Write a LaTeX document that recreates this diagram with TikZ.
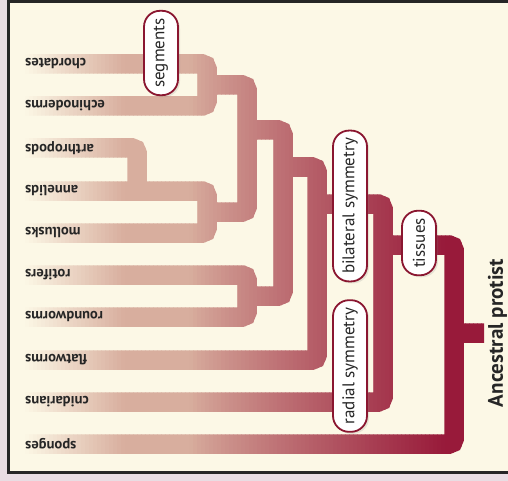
\documentclass[tikz,border=0pt]{standalone}
\usepackage{xcolor}
\usepackage{fontspec}
\setmainfont{PT Sans}
\usetikzlibrary{shadows}

\definecolor{pagepink}{HTML}{E9DDE3}
\definecolor{panelcream}{HTML}{FCF8E6}
\definecolor{tanbar}{HTML}{D8AE9E}
\definecolor{crimbar}{HTML}{981A3A}
\definecolor{traitred}{HTML}{8A1630}

% all branches of the tree, from leaf to root
\newcommand{\treebranches}{%
  (chordates) -- (chordates -| deut) -- (echinoderms -| deut) -- (echinoderms)
  (arthropods) -- (arthropods -| arth) -- (annelids -| arth)
  (annelids) -- (annelids -| lopho) -- (mollusks -| lopho) -- (mollusks)
  (deut) -- (deut -| coel) -- (lopho -| coel) -- (lopho)
  (rotifers) -- (rotifers -| pseudo) -- (roundworms -| pseudo) -- (roundworms)
  (coel) -- (coel -| prot) -- (pseudo -| prot) -- (pseudo)
  (prot) -- (prot -| bilat) -- (flatworms -| bilat) -- (flatworms)
  (bilat) -- (bilat -| eumet) -- (cnidarians -| eumet) -- (cnidarians)
  (eumet) -- (eumet -| root) -- (sponges -| root) -- (sponges)
  (root) -- (rootend)}

\begin{document}
\begin{tikzpicture}[x=1pt,y=-1pt]

% ---------- common style ----------
\tikzstyle{branch}=[line width=19.5,rounded corners=5]
\tikzstyle{leaf}=[font=\fontsize{14.6}{16}\selectfont\bfseries,text=black!85,rotate=180,anchor=east,inner sep=0pt]
\tikzstyle{trait}=[draw=traitred,line width=1.8,fill=white,rounded corners=16,minimum height=34,
  inner xsep=7.5,inner ysep=0,rotate=90,font=\fontsize{17}{19}\selectfont,text=black!85,
  drop shadow={opacity=0.18,shadow xshift=2,shadow yshift=2}]

% ================== frame ==================
\useasboundingbox (0,0) rectangle (508,481);
\fill[pagepink] (0,0) rectangle (508,481);
\draw[black!85,line width=3,fill=panelcream] (8.5,1.5) rectangle (530,472.5);

% ================== leaves ==================
\coordinate (chordates)   at (25,64);
\coordinate (echinoderms) at (25,106);
\coordinate (arthropods)  at (25,148);
\coordinate (annelids)    at (25,191);
\coordinate (mollusks)    at (25,233);
\coordinate (rotifers)    at (25,275);
\coordinate (roundworms)  at (25,317);
\coordinate (flatworms)   at (25,360);
\coordinate (cnidarians)  at (25,402);
\coordinate (sponges)     at (25,444);

% ================== branch points ==================
\coordinate (deut)    at (207,85);
\coordinate (arth)    at (137,170);
\coordinate (lopho)   at (207,212);
\coordinate (coel)    at (247,130);
\coordinate (pseudo)  at (247,296);
\coordinate (prot)    at (283,167);
\coordinate (bilat)   at (317,204);
\coordinate (eumet)   at (383,245);
\coordinate (root)    at (454,333);
\coordinate (rootend) at (484,333);

% tree drawn in thin vertical slices: cream -> tan -> crimson
\foreach \i in {0,...,115}{
  \pgfmathsetmacro{\xl}{25+4*\i}
  \pgfmathsetmacro{\tpct}{min(100,(\xl-23)/1.0)}
  \pgfmathsetmacro{\cpct}{100*pow(max(0.001,min(1,(\xl+2-190)/255)),0.85)}
  \colorlet{slicebase}{tanbar!\tpct!panelcream}
  \colorlet{slicecol}{crimbar!\cpct!slicebase}
  \begin{scope}
    \clip (\xl,0) rectangle (\xl+4.6,481);
    \draw[branch,draw=slicecol] \treebranches;
  \end{scope}
}

% ================== labels ==================
\node[leaf] (chordL)  at (chordates)   {chordates};
\node[leaf] (echinL)  at (echinoderms) {echinoderms};
\node[leaf] (arthL)   at (arthropods)  {arthropods};
\node[leaf] (annelL)  at (annelids)    {annelids};
\node[leaf] (mollL)   at (mollusks)    {mollusks};
\node[leaf] (rotL)    at (rotifers)    {rotifers};
\node[leaf] (roundL)  at (roundworms)  {roundworms};
\node[leaf] (flatL)   at (flatworms)   {flatworms};
\node[leaf] (cnidL)   at (cnidarians)  {cnidarians};
\node[leaf] (spongL)  at (sponges)     {sponges};

% traits on the branches
\node[trait] (segm)   at (161,53)  {segments};
\node[trait] (bilatT) at (350,206) {bilateral symmetry};
\node[trait] (tiss)   at (419,243) {tissues};
\node[trait] (radT)   at (350,366) {radial symmetry};

\node[font=\fontsize{21}{23}\selectfont\bfseries,text=black!85,rotate=90] (protist) at (497.5,333) {Ancestral protist};

\end{tikzpicture}
\end{document}
